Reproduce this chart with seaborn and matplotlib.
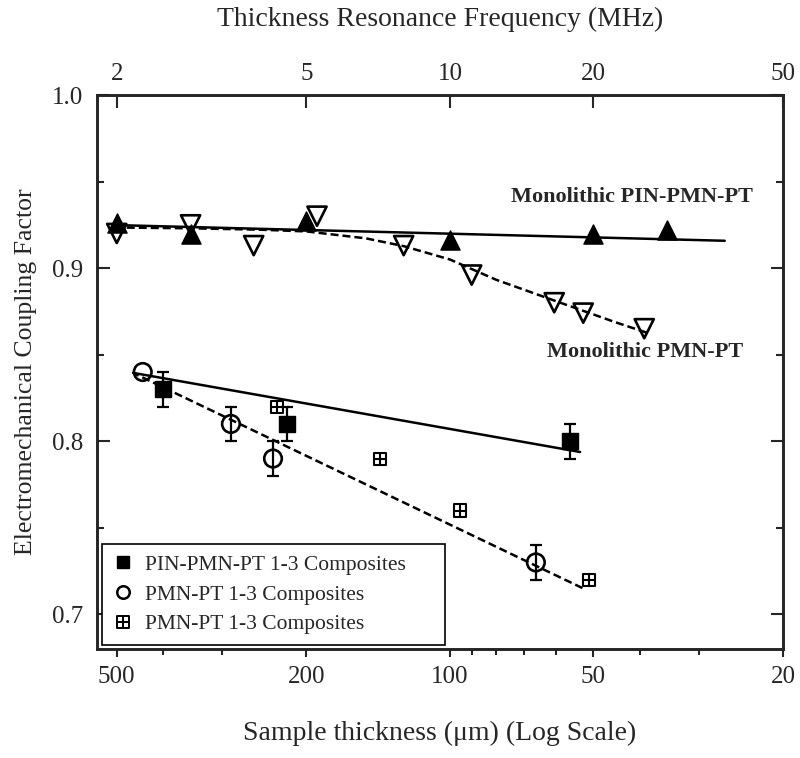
import numpy as np
import pandas as pd
import matplotlib
matplotlib.use("Agg")
import matplotlib.pyplot as plt
import seaborn as sns
from matplotlib.path import Path
from matplotlib.lines import Line2D
from matplotlib.ticker import NullFormatter, FixedLocator, FixedFormatter

# monolithic PIN-PMN-PT (filled up triangles)
pin_mono_t = [500, 350, 200, 100, 50, 35]
pin_mono_k = [0.926, 0.920, 0.927, 0.916, 0.920, 0.922]
pin_mono_fit_t = [510, 26.5]
pin_mono_fit_k = [0.9249, 0.9158]

# monolithic PMN-PT (open down triangles)
pmn_mono_t = [500, 350, 258, 190, 125, 90, 60.4, 52.5, 39.1]
pmn_mono_k = [0.920, 0.925, 0.913, 0.930, 0.913, 0.896, 0.880, 0.874, 0.865]
pmn_mono_fit_t = [510, 350, 250, 200, 150, 125, 100, 80, 60, 45, 38.7]
pmn_mono_fit_k = [0.9235, 0.9230, 0.9222, 0.9212, 0.9172, 0.9127, 0.9050,
                  0.8933, 0.8810, 0.8688, 0.8628]

# PIN-PMN-PT 1-3 composites (filled squares)
pin_comp_t = [400, 220, 56]
pin_comp_k = [0.83, 0.81, 0.80]
pin_comp_err = [0.01, 0.01, 0.01]
pin_comp_fit_t = [462, 53.3]
pin_comp_fit_k = [0.8395, 0.7938]

# PMN-PT 1-3 composites (open circles), first point has no error bar
pmn_comp_t = [441, 288, 235, 66]
pmn_comp_k = [0.84, 0.81, 0.79, 0.73]
pmn_comp_err = [0.0, 0.01, 0.01, 0.01]
pmn_comp_fit_t = [459, 52.7]
pmn_comp_fit_k = [0.8391, 0.7152]

# PMN-PT 1-3 composites, second set (boxed plus)
pmn_comp2_t = [230, 140, 95.4, 51.1]
pmn_comp2_k = [0.82, 0.79, 0.76, 0.72]

x_major = [500, 200, 100, 50, 20]
x_minor = [400, 300, 90, 80, 70, 60, 40, 30]
top_ticks = [2, 5, 10, 20, 50]

sns.set_theme(style="ticks")
plt.rcParams['font.family'] = ['Liberation Serif', 'DejaVu Serif']

# square with a cross inside
boxplus = Path(
    [(-1, -1), (1, -1), (1, 1), (-1, 1), (-1, -1),
     (0, -1), (0, 1), (-1, 0), (1, 0)],
    [Path.MOVETO, Path.LINETO, Path.LINETO, Path.LINETO, Path.CLOSEPOLY,
     Path.MOVETO, Path.LINETO, Path.MOVETO, Path.LINETO])

fig = plt.figure(figsize=(8, 7.58), dpi=100)
fig.subplots_adjust(left=97/800, right=783/800, top=1-95/758, bottom=1-649/758)
ax = fig.add_subplot(111)

lw = 1.8
dash = (0, (3.2, 1.6))
# fit lines
sns.lineplot(x=pin_mono_fit_t, y=pin_mono_fit_k, ax=ax, color='black', lw=lw)
sns.lineplot(x=pmn_mono_fit_t, y=pmn_mono_fit_k, ax=ax, color='black', lw=lw,
             linestyle=dash)
sns.lineplot(x=pin_comp_fit_t, y=pin_comp_fit_k, ax=ax, color='black', lw=lw)
sns.lineplot(x=pmn_comp_fit_t, y=pmn_comp_fit_k, ax=ax, color='black', lw=lw,
             linestyle=dash)

# error bars
pin_df = pd.DataFrame({'t': pin_comp_t, 'k': pin_comp_k, 'e': pin_comp_err})
pmn_df = pd.DataFrame({'t': pmn_comp_t, 'k': pmn_comp_k, 'e': pmn_comp_err})
for d in (pin_df, pmn_df):
    d = d[d['e'] > 0]
    ax.errorbar(d['t'], d['k'], yerr=d['e'], fmt='none', ecolor='black',
                elinewidth=1.6, capsize=4.5, capthick=1.6, zorder=3)

# markers
sns.scatterplot(x=pin_mono_t, y=pin_mono_k, ax=ax, marker='^', s=190,
                color='black', edgecolor='black', linewidth=1, zorder=4)
sns.scatterplot(x=pmn_mono_t, y=pmn_mono_k, ax=ax, marker='v', s=190,
                facecolor='none', edgecolor='black', linewidth=1.9, zorder=4)
sns.scatterplot(x=pin_comp_t, y=pin_comp_k, ax=ax, marker='s', s=120,
                color='black', edgecolor='black', linewidth=1, zorder=4)
sns.scatterplot(x=pmn_comp_t, y=pmn_comp_k, ax=ax, marker='o', s=160,
                facecolor='none', edgecolor='black', linewidth=1.9, zorder=4)
sns.scatterplot(x=pmn_comp2_t, y=pmn_comp2_k, ax=ax, marker=boxplus, s=75,
                facecolor='none', edgecolor='black', linewidth=1.5, zorder=4)

ax.set_xscale('log')
ax.set_xlim(550, 20)
ax.set_ylim(0.68, 1.0)

ax.xaxis.set_major_locator(FixedLocator(x_major))
ax.xaxis.set_major_formatter(FixedFormatter([str(v) for v in x_major]))
ax.xaxis.set_minor_locator(FixedLocator(x_minor))
ax.xaxis.set_minor_formatter(NullFormatter())
ax.set_yticks([0.7, 0.8, 0.9, 1.0])
ax.set_yticklabels(['0.7', '0.8', '0.9', '1.0'])
ax.set_yticks([0.75, 0.85, 0.95], minor=True)

ax.tick_params(axis='x', which='major', direction='out', length=6, width=1.5,
               labelsize=18, pad=6, top=False)
ax.tick_params(axis='x', which='minor', direction='out', length=4, width=1.5, top=False)
ax.tick_params(axis='y', which='major', direction='in', length=9, width=1.5,
               labelsize=18, pad=10, right=True)
ax.tick_params(axis='y', which='minor', direction='in', length=5, width=1.5, right=True)
for sp in ax.spines.values():
    sp.set_linewidth(1.8)
    sp.set_color('black')

ax.set_xlabel('Sample thickness (\u03bcm) (Log Scale)', fontsize=20, labelpad=24)
ax.set_ylabel('Electromechanical Coupling Factor', fontsize=18.5, labelpad=11)

# top axis: thickness resonance frequency
ax2 = ax.twiny()
ax2.set_xscale('log')
ax2.set_xlim(1000 / 550, 1000 / 20)
ax2.xaxis.set_major_locator(FixedLocator(top_ticks))
ax2.xaxis.set_major_formatter(FixedFormatter([str(v) for v in top_ticks]))
ax2.xaxis.set_minor_locator(FixedLocator([]))
ax2.tick_params(axis='x', which='major', direction='in', length=9, width=1.5,
                labelsize=18, pad=7)
ax2.set_xlabel('Thickness Resonance Frequency (MHz)', fontsize=20, labelpad=27)
for sp in ax2.spines.values():
    sp.set_linewidth(1.8)

ax.text(74.3, 0.941, 'Monolithic PIN-PMN-PT', fontsize=16, fontweight='bold',
        ha='left', va='center')
ax.text(62.4, 0.8514, 'Monolithic PMN-PT', fontsize=16, fontweight='bold',
        ha='left', va='center')

handles = [
    Line2D([], [], marker='s', color='black', linestyle='none', markersize=8),
    Line2D([], [], marker='o', markerfacecolor='none', markeredgecolor='black',
           markeredgewidth=1.8, linestyle='none', markersize=9),
    Line2D([], [], marker=boxplus, markerfacecolor='none', markeredgecolor='black',
           markeredgewidth=1.4, linestyle='none', markersize=8),
]
labels = ['PIN-PMN-PT 1-3 Composites', 'PMN-PT 1-3 Composites', 'PMN-PT 1-3 Composites']
leg = ax.legend(handles, labels, loc='lower left',
                bbox_to_anchor=(0.007, 0.007, 0.501, 0.18), mode='expand',
                fontsize=15.5, frameon=True, fancybox=False, framealpha=1,
                edgecolor='black', borderaxespad=0, handletextpad=0.5,
                handlelength=1.0, labelspacing=0.45, borderpad=0.5)
leg.get_frame().set_linewidth(1.2)
leg.set_zorder(5)

fig.savefig('out.png', dpi=100)
